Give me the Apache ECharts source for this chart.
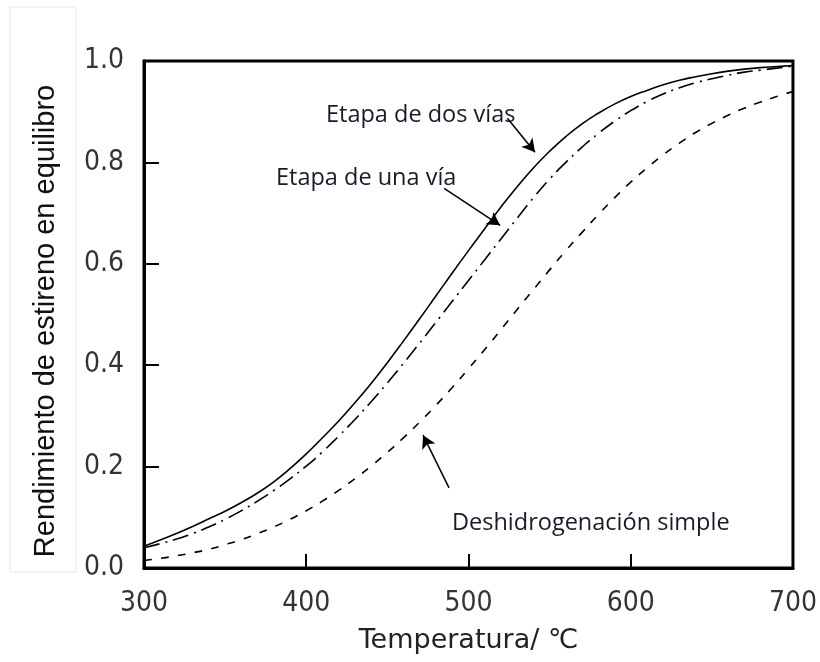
<!DOCTYPE html>
<html><head><meta charset="utf-8">
<script src="https://cdn.jsdelivr.net/npm/echarts@6/dist/echarts.min.js"></script>
<style>html,body{margin:0;padding:0;background:#fff}#c{width:820px;height:662px}</style>
</head><body><div id="c"></div>
<script>
const temps = [300,310,320,330,340,350,360,370,380,390,400,410,420,430,440,450,460,470,480,490,500,510,520,530,540,550,560,570,580,590,600,610,620,630,640,650,660,670,680,690,700];
const dosVias = [0.043,0.055,0.068,0.082,0.097,0.112,0.129,0.148,0.170,0.196,0.225,0.257,0.290,0.326,0.364,0.405,0.448,0.492,0.537,0.582,0.626,0.669,0.712,0.752,0.789,0.822,0.851,0.876,0.897,0.915,0.930,0.942,0.953,0.962,0.969,0.975,0.980,0.984,0.987,0.989,0.991];
const unaVia = [0.040,0.048,0.057,0.068,0.081,0.096,0.113,0.132,0.153,0.176,0.201,0.229,0.260,0.293,0.328,0.365,0.404,0.444,0.485,0.526,0.567,0.608,0.649,0.690,0.730,0.767,0.800,0.830,0.857,0.881,0.902,0.920,0.935,0.947,0.957,0.965,0.972,0.978,0.982,0.986,0.990];
const simple = [0.015,0.019,0.024,0.030,0.037,0.046,0.056,0.068,0.081,0.096,0.113,0.132,0.153,0.176,0.201,0.228,0.257,0.288,0.321,0.356,0.393,0.431,0.470,0.510,0.549,0.588,0.626,0.662,0.697,0.730,0.761,0.789,0.815,0.838,0.859,0.877,0.893,0.907,0.919,0.930,0.940];
const xTicks = [300,400,500,600,700];
const yTicks = [0.0,0.2,0.4,0.6,0.8,1.0];
const labels = ['Etapa de dos vías','Etapa de una vía','Deshidrogenación simple'];
// annotation arrows (data coordinates): [from, to]
const arrowDos = [[524,0.887],[541,0.820]];
const arrowUna = [[485,0.749],[519.5,0.676]];
const arrowSimple = [[488,0.158],[472,0.262]];

const pair = v => temps.map((t,i)=>[t,v[i]]);
const arrowStyle = {color:'#000',width:1.5,type:'solid'};
function arrowLine(a){return [{coord:a[0],symbol:'none'},{coord:a[1],symbol:'arrow',symbolSize:[11,13]}];}

const chart = echarts.init(document.getElementById('c'));
const tickFont = {fontFamily:'"Liberation Sans Narrow","DejaVu Sans Condensed","Liberation Sans",sans-serif',fontSize:28,color:'#333'};
const annFont = '"Open Sans","Noto Sans",sans-serif';
chart.setOption({
  animation:false,
  grid:{left:144,right:24,top:61,bottom:94,show:true,borderColor:'#000',borderWidth:3,backgroundColor:'#fff'},
  xAxis:{type:'value',min:300,max:700,interval:100,
    axisLine:{show:true,lineStyle:{color:'#000',width:3}},
    axisTick:{show:true,inside:true,length:14,lineStyle:{color:'#000',width:2}},
    splitLine:{show:false},
    axisLabel:Object.assign({margin:22,formatter:v=>xTicks.includes(v)?String(v):''},tickFont),
    name:'Temperatura/ ℃',nameLocation:'middle',nameGap:59,
    nameTextStyle:{fontFamily:'"DejaVu Sans",sans-serif',fontSize:27,color:'#222'}
  },
  yAxis:{type:'value',min:0,max:1,interval:0.2,
    axisLine:{show:true,lineStyle:{color:'#000',width:3}},
    axisTick:{show:true,inside:true,length:15,lineStyle:{color:'#000',width:2}},
    splitLine:{show:false},
    axisLabel:Object.assign({margin:20,formatter:v=>yTicks.some(t=>Math.abs(t-v)<1e-9)?v.toFixed(1):''},tickFont)
  },
  series:[
    {name:labels[0],type:'line',smooth:true,showSymbol:false,data:pair(dosVias),
      lineStyle:{color:'#000',width:1.6,type:'solid'},
      markLine:{silent:true,symbol:['none','arrow'],lineStyle:arrowStyle,label:{show:false},
        data:[arrowLine(arrowDos),arrowLine(arrowUna),arrowLine(arrowSimple)]}},
    {name:labels[1],type:'line',smooth:true,showSymbol:false,data:pair(unaVia),
      lineStyle:{color:'#000',width:1.6,type:[16,6,2,6]}},
    {name:labels[2],type:'line',smooth:true,showSymbol:false,data:pair(simple),
      lineStyle:{color:'#000',width:1.6,type:[8,9]}}
  ],
  graphic:[
    {type:'rect',shape:{x:10,y:7,width:66,height:565},style:{fill:'#fff',stroke:'#e8e8e8',lineWidth:1},z:-1},
    {type:'text',x:46,y:321,rotation:Math.PI/2,style:{text:'Rendimiento de estireno en equilibro',fontFamily:'"Liberation Sans",Arial,sans-serif',fontSize:29,fill:'#111',align:'center',verticalAlign:'middle'}},
    {type:'text',x:326,y:115,style:{text:labels[0],fontFamily:annFont,fontSize:23.5,fill:'#1a1a2a',align:'left',verticalAlign:'middle'}},
    {type:'text',x:276,y:178,style:{text:labels[1],fontFamily:annFont,fontSize:23.5,fill:'#1a1a2a',align:'left',verticalAlign:'middle'}},
    {type:'text',x:452,y:523,style:{text:labels[2],fontFamily:annFont,fontSize:23.5,fill:'#1a1a2a',align:'left',verticalAlign:'middle'}}
  ]
});
</script></body></html>
